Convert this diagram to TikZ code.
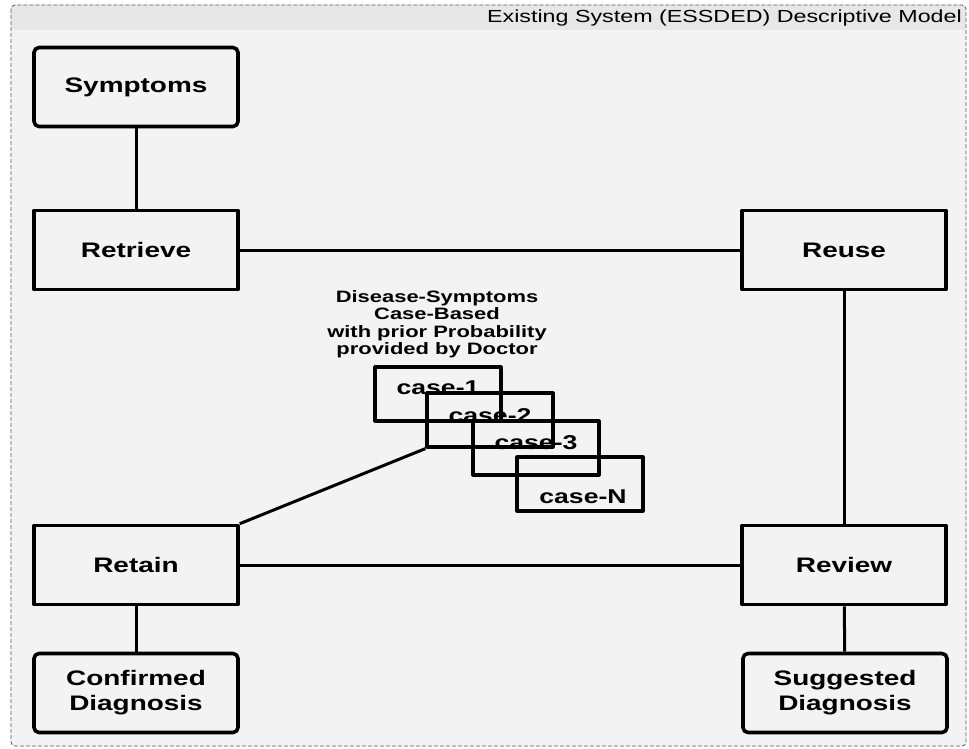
\documentclass[tikz,border=0pt]{standalone}
\usepackage{fontspec}
\setmainfont{Liberation Sans}
\usepackage{graphicx}
\definecolor{panel}{RGB}{243,243,243}
\definecolor{header}{RGB}{231,231,231}
\definecolor{frameline}{RGB}{90,90,90}
\usetikzlibrary{positioning}
\newcommand{\wtxt}[1]{\scalebox{1.33}[1]{#1}}

\begin{document}
\begin{tikzpicture}[x=1pt, y=-1pt, line join=round,
    stage/.style={draw, line width=3.6pt, minimum width=204pt, minimum height=79pt,
        align=center, inner sep=0pt, font=\fontsize{21}{25}\selectfont\bfseries},
    terminal/.style={stage, rounded corners=5pt},
    casebox/.style={draw, line width=3.2pt, minimum width=126pt, minimum height=54pt, inner sep=0pt},
    casetext/.style={font=\fontsize{20}{24}\selectfont\bfseries, inner sep=0pt},
    link/.style={line width=3pt}]
    \useasboundingbox (0,0) rectangle (969,749);

    % Panel
    \fill[white] (0,0) rectangle (969,749);
    \fill[panel, rounded corners=4pt] (11,5) rectangle (966,746);
    \fill[header, rounded corners=4pt] (11,5) rectangle (966,30);
    \fill[header] (11,15) rectangle (966,30);
    \draw[frameline, line width=0.8pt, dash pattern=on 4pt off 2pt, rounded corners=4pt] (11,5) rectangle (966,746);
    \node[anchor=east, inner sep=0pt, font=\fontsize{17.5}{20}\selectfont] (title) at (962,18)
        {\wtxt{Existing System (ESSDED) Descriptive Model}};

    % Stages
    \node[terminal] (symptoms) at (136,87) {\wtxt{Symptoms}};
    \node[stage] (retrieve) at (136,250) {\wtxt{Retrieve}};
    \node[stage] (reuse) at (844,250) {\wtxt{Reuse}};
    \node[stage] (retain) at (136,565) {\wtxt{Retain}};
    \node[stage] (review) at (844,565) {\wtxt{Review}};
    \node[terminal] (confirmed) at (136,693) {\wtxt{Confirmed}\\\wtxt{Diagnosis}};
    \node[terminal] (suggested) at (845,693) {\wtxt{Suggested}\\\wtxt{Diagnosis}};

    % Case base
    \node[align=center, inner sep=0pt, font=\fontsize{16.5}{17.5}\selectfont\bfseries] (casebase) at (437,324)
        {\wtxt{Disease-Symptoms}\\\wtxt{Case-Based}\\\wtxt{with prior Probability}\\\wtxt{provided by Doctor}};
    \node[casebox] (case1) at (438,394) {};
    \node[casebox] (case2) at (490,420) {};
    \node[casebox] (case3) at (536,448) {};
    \node[casebox] (caseN) at (580,484) {};
    \path (case1.center) ++(0,-6) node[casetext] (t1) {\wtxt{case-1}};
    \path (case2.center) ++(0,-4) node[casetext] (t2) {\wtxt{case-2}};
    \path (case3.center) ++(0,-5) node[casetext] (t3) {\wtxt{case-3}};
    \path (caseN.center) ++(3,13) node[casetext] (tN) {\wtxt{case-N}};

    % Links
    \draw[link] (symptoms) -- (retrieve);
    \draw[link] (retrieve) -- (reuse);
    \draw[link] (reuse) -- (review);
    \draw[link] (retain) -- (review);
    \draw[link] (retain) -- (confirmed);
    \draw[link] (review) -- (suggested);
    \draw[link] (retain.north east) -- (case2.south west);
\end{tikzpicture}
\end{document}
